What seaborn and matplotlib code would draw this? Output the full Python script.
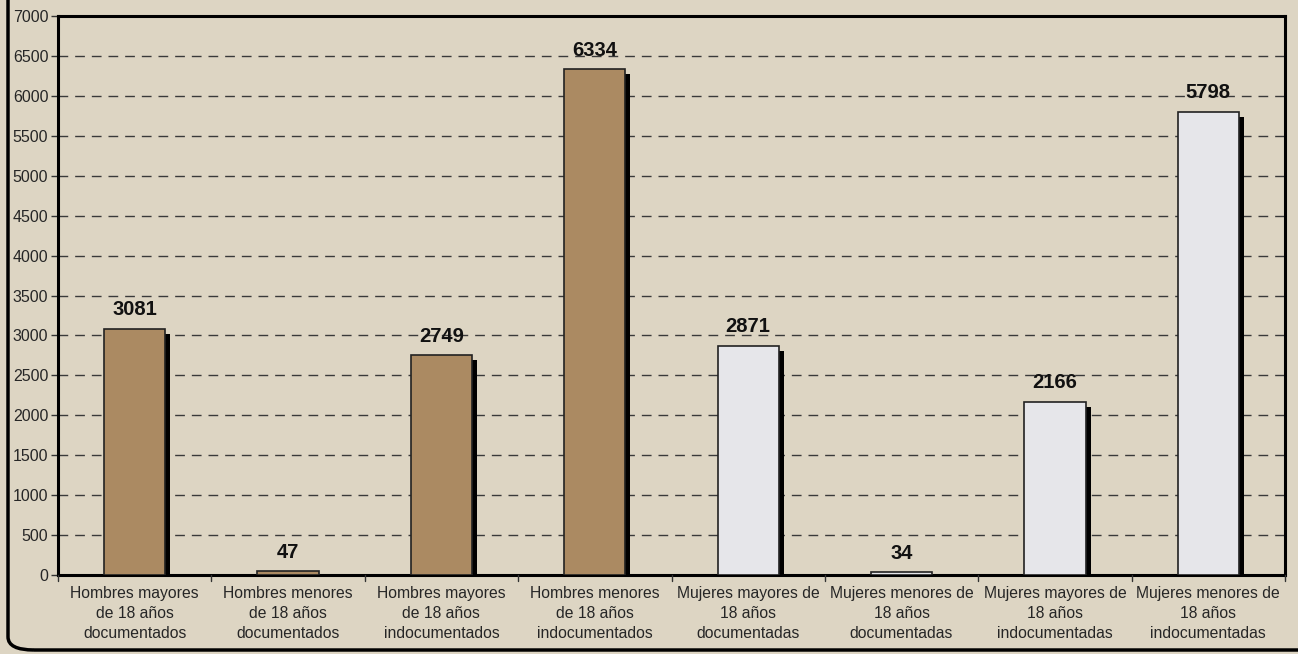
import matplotlib
matplotlib.use("Agg")
import matplotlib.pyplot as plt
import matplotlib.transforms as mtransforms
from matplotlib.patches import FancyBboxPatch
import seaborn as sns
import pandas as pd

categories = [
    "Hombres mayores\nde 18 años\ndocumentados",
    "Hombres menores\nde 18 años\ndocumentados",
    "Hombres mayores\nde 18 años\nindocumentados",
    "Hombres menores\nde 18 años\nindocumentados",
    "Mujeres mayores de\n18 años\ndocumentadas",
    "Mujeres menores de\n18 años\ndocumentadas",
    "Mujeres mayores de\n18 años\nindocumentadas",
    "Mujeres menores de\n18 años\nindocumentadas",
]
values = [3081, 47, 2749, 6334, 2871, 34, 2166, 5798]
groups = ["Hombres"] * 4 + ["Mujeres"] * 4
yticks = list(range(0, 7001, 500))

df = pd.DataFrame({"cat": categories, "val": values, "grp": groups})

sns.set_theme(style="white")
plt.rcParams["font.family"] = ["Liberation Sans", "DejaVu Sans"]

bg = "#ddd5c3"
fig = plt.figure(figsize=(12.98, 6.54), dpi=100, facecolor=bg)
ax = fig.add_axes([58 / 1298, 1 - 575 / 654, 1227 / 1298, 559 / 654])
ax.set_facecolor(bg)

# shadow bars
sns.barplot(data=df, x="cat", y="val", color="black", width=0.4, ax=ax,
            saturation=1, errorbar=None, zorder=2)
shadow = list(ax.patches)
off = mtransforms.ScaledTranslation(5 / 100, -5 / 100, fig.dpi_scale_trans)
for p in shadow:
    p.set_transform(ax.transData + off)
    p.set_edgecolor("none")

sns.barplot(data=df, x="cat", y="val", hue="grp", dodge=False, width=0.4,
            palette={"Hombres": "#ab8a62", "Mujeres": "#e6e6ea"},
            saturation=1, errorbar=None, ax=ax, legend=False, zorder=3,
            edgecolor="#222222", linewidth=1.2)

for i, v in enumerate(values):
    ax.text(i, v + 120, f"{v}", ha="center", va="bottom", fontsize=14.5,
            fontweight="bold", color="#111111", zorder=5)

ax.set_ylim(0, 7000)
ax.set_xlim(-0.5, 7.5)
ax.set_yticks(yticks)
ax.set_yticklabels([str(t) for t in yticks], fontsize=11.5)
ax.tick_params(axis="y", length=5, width=1, color="#333333", pad=2, left=True)
ax.tick_params(axis="x", pad=2, bottom=False)
for lab in ax.get_xticklabels():
    lab.set_fontsize(11.3)
    lab.set_linespacing(1.4)
for xb in [i + 0.5 for i in range(-1, 8)]:
    ax.plot([xb, xb], [0, -70], color="#333333", lw=1, clip_on=False, zorder=4)
ax.yaxis.grid(True, linestyle=(0, (7, 5)), color="#3a3a3a", linewidth=1, zorder=1)
ax.set_axisbelow(True)
ax.set_xlabel("")
ax.set_ylabel("")
for s in ["left", "top", "right", "bottom"]:
    ax.spines[s].set_visible(True)
    ax.spines[s].set_color("black")
    ax.spines[s].set_linewidth(2.2)

# figure rounded border
frame = FancyBboxPatch((8 / 1298, 4 / 654), 1400 / 1298, 700 / 654,
                       boxstyle="round,pad=0,rounding_size=0.02",
                       transform=fig.transFigure, facecolor="none",
                       edgecolor="black", linewidth=2.5, zorder=0)
fig.patches.append(frame)

fig.savefig("out.png", dpi=100, facecolor=bg)
